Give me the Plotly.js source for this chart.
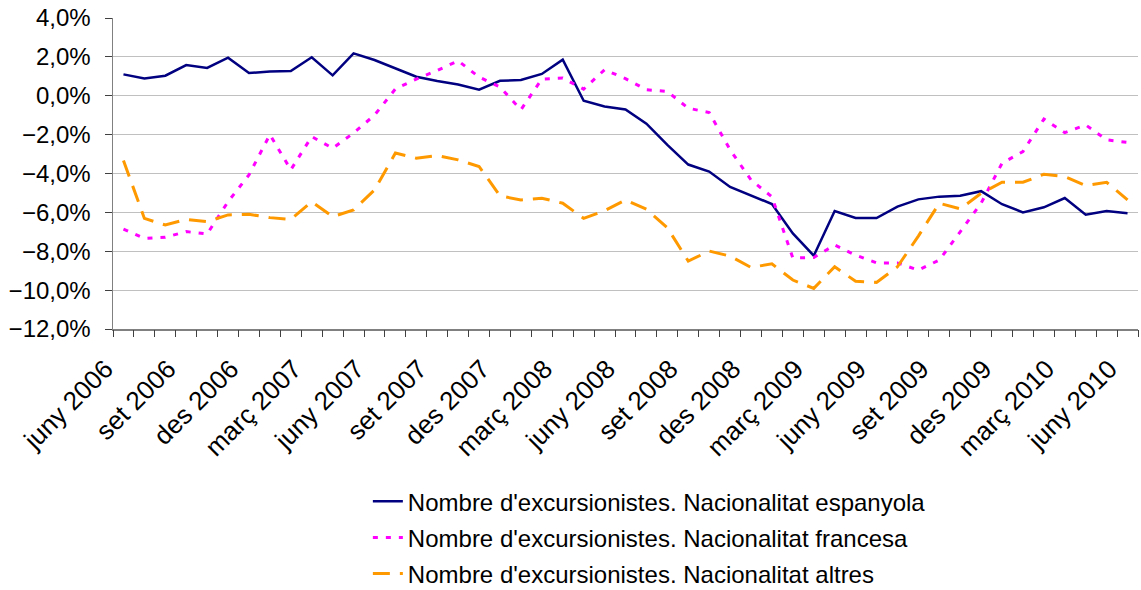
<!DOCTYPE html>
<html>
<head>
<meta charset="utf-8">
<script src="https://cdn.plot.ly/plotly-3.0.1.min.js"></script>
<style>html,body{margin:0;padding:0;background:#fff;}#chart{width:1141px;height:590px;}</style>
</head>
<body>
<div id="chart"></div>
<script>
const months = [
  'juny 2006','jul 2006','ag 2006','set 2006','oct 2006','nov 2006','des 2006',
  'gen 2007','febr 2007','març 2007','abr 2007','maig 2007','juny 2007','jul 2007','ag 2007','set 2007','oct 2007','nov 2007','des 2007',
  'gen 2008','febr 2008','març 2008','abr 2008','maig 2008','juny 2008','jul 2008','ag 2008','set 2008','oct 2008','nov 2008','des 2008',
  'gen 2009','febr 2009','març 2009','abr 2009','maig 2009','juny 2009','jul 2009','ag 2009','set 2009','oct 2009','nov 2009','des 2009',
  'gen 2010','febr 2010','març 2010','abr 2010','maig 2010','juny 2010'
];
const tickLabels = ['juny 2006','set 2006','des 2006','març 2007','juny 2007','set 2007','des 2007','març 2008','juny 2008','set 2008','des 2008','març 2009','juny 2009','set 2009','des 2009','març 2010','juny 2010'];

const espanyola = [1.10, 0.89, 1.03, 1.58, 1.43, 1.96, 1.17, 1.25, 1.27, 1.98, 1.05, 2.18, 1.84, 1.42, 0.98, 0.76, 0.58, 0.31, 0.77, 0.81, 1.12, 1.86, -0.26, -0.55, -0.71, -1.44, -2.53, -3.54, -3.90, -4.69, -5.15, -5.57, -7.08, -8.23, -5.93, -6.29, -6.29, -5.70, -5.33, -5.19, -5.14, -4.91, -5.58, -6.00, -5.74, -5.26, -6.12, -5.93, -6.05];
const francesa = [-6.86, -7.34, -7.28, -6.99, -7.11, -5.45, -4.07, -2.00, -3.81, -2.10, -2.70, -1.92, -1.00, 0.35, 0.86, 1.30, 1.80, 0.96, 0.45, -0.72, 0.86, 0.91, 0.34, 1.34, 0.88, 0.31, 0.22, -0.64, -0.86, -2.78, -4.33, -5.20, -8.35, -8.32, -7.68, -8.20, -8.60, -8.60, -8.97, -8.45, -7.00, -5.53, -3.47, -2.87, -1.20, -1.90, -1.50, -2.27, -2.40];
const altres = [-3.33, -6.31, -6.65, -6.36, -6.48, -6.13, -6.10, -6.27, -6.36, -5.45, -6.22, -5.88, -4.85, -2.95, -3.21, -3.08, -3.30, -3.64, -5.15, -5.36, -5.27, -5.53, -6.31, -5.91, -5.36, -5.84, -6.79, -8.51, -7.99, -8.25, -8.83, -8.65, -9.48, -9.91, -8.80, -9.54, -9.60, -8.80, -7.22, -5.53, -5.82, -5.02, -4.45, -4.45, -4.04, -4.16, -4.62, -4.45, -5.36];

const seriesNames = [
  "Nombre d'excursionistes. Nacionalitat espanyola",
  "Nombre d'excursionistes. Nacionalitat francesa",
  "Nombre d'excursionistes. Nacionalitat altres"
];

const FONT = 'Liberation Sans, Arial, Helvetica, sans-serif';

// category boundaries for the tick marks
const boundaries = [];
for (let i = 0; i <= months.length; i++) boundaries.push(i - 0.5);

const traces = [
  {x: months, y: espanyola, name: seriesNames[0], type: 'scatter', mode: 'lines', legendgroup: 'a',
   line: {color: '#000080', width: 2.5}},
  {x: months, y: francesa, name: seriesNames[1], type: 'scatter', mode: 'lines', legendgroup: 'b',
   line: {color: '#FF00FF', width: 3, dash: '5px,8px'}},
  {x: months, y: altres, name: seriesNames[2], type: 'scatter', mode: 'lines', legendgroup: 'c',
   line: {color: '#FF9900', width: 3, dash: '17px,10px'}},
  {x: [], y: [], xaxis: 'x2', yaxis: 'y', type: 'scatter', mode: 'lines', showlegend: false, hoverinfo: 'skip'}
];

const layout = {
  width: 1141, height: 590,
  margin: {l: 113, r: 3, t: 18, b: 261, autoexpand: false},
  paper_bgcolor: '#fff', plot_bgcolor: '#fff',
  separators: ',.',
  font: {family: FONT, size: 24, color: '#000'},
  showlegend: true,
  xaxis: {
    type: 'category', range: [-0.5, months.length - 0.5],
    tickmode: 'array', tickvals: tickLabels, ticktext: tickLabels,
    tickangle: -45, ticks: '', showgrid: false, zeroline: false,
    showline: true, linecolor: '#808080', linewidth: 1.5,
    tickfont: {family: FONT, size: 26, color: '#000'},
    ticklabelshift: -18, ticklabelstandoff: 13, automargin: false
  },
  xaxis2: {
    overlaying: 'x', anchor: 'y', type: 'linear', range: [-0.5, months.length - 0.5],
    tickmode: 'array', tickvals: boundaries, showticklabels: false,
    ticks: 'outside', ticklen: 7, tickcolor: '#404040', tickwidth: 1,
    showgrid: false, zeroline: false, showline: false
  },
  yaxis: {
    range: [-12, 4], dtick: 2, tick0: 0, tickformat: '.1f', ticksuffix: '%',
    showgrid: true, gridcolor: '#c0c0c0', gridwidth: 1, zeroline: false,
    showline: true, linecolor: '#808080', linewidth: 1.5,
    ticks: 'outside', ticklen: 7, tickcolor: '#404040',
    tickfont: {family: FONT, size: 24, color: '#000'},
    ticklabelstandoff: 9, automargin: false
  },
  legend: {
    xref: 'container', yref: 'container', x: 0.3224, y: 0.188, xanchor: 'left', yanchor: 'top',
    orientation: 'v', traceorder: 'grouped', tracegroupgap: 2,
    font: {family: FONT, size: 24, color: '#000'}, bgcolor: 'rgba(0,0,0,0)'
  }
};

Plotly.newPlot('chart', traces, layout, {displayModeBar: false, staticPlot: true});
</script>
</body>
</html>
